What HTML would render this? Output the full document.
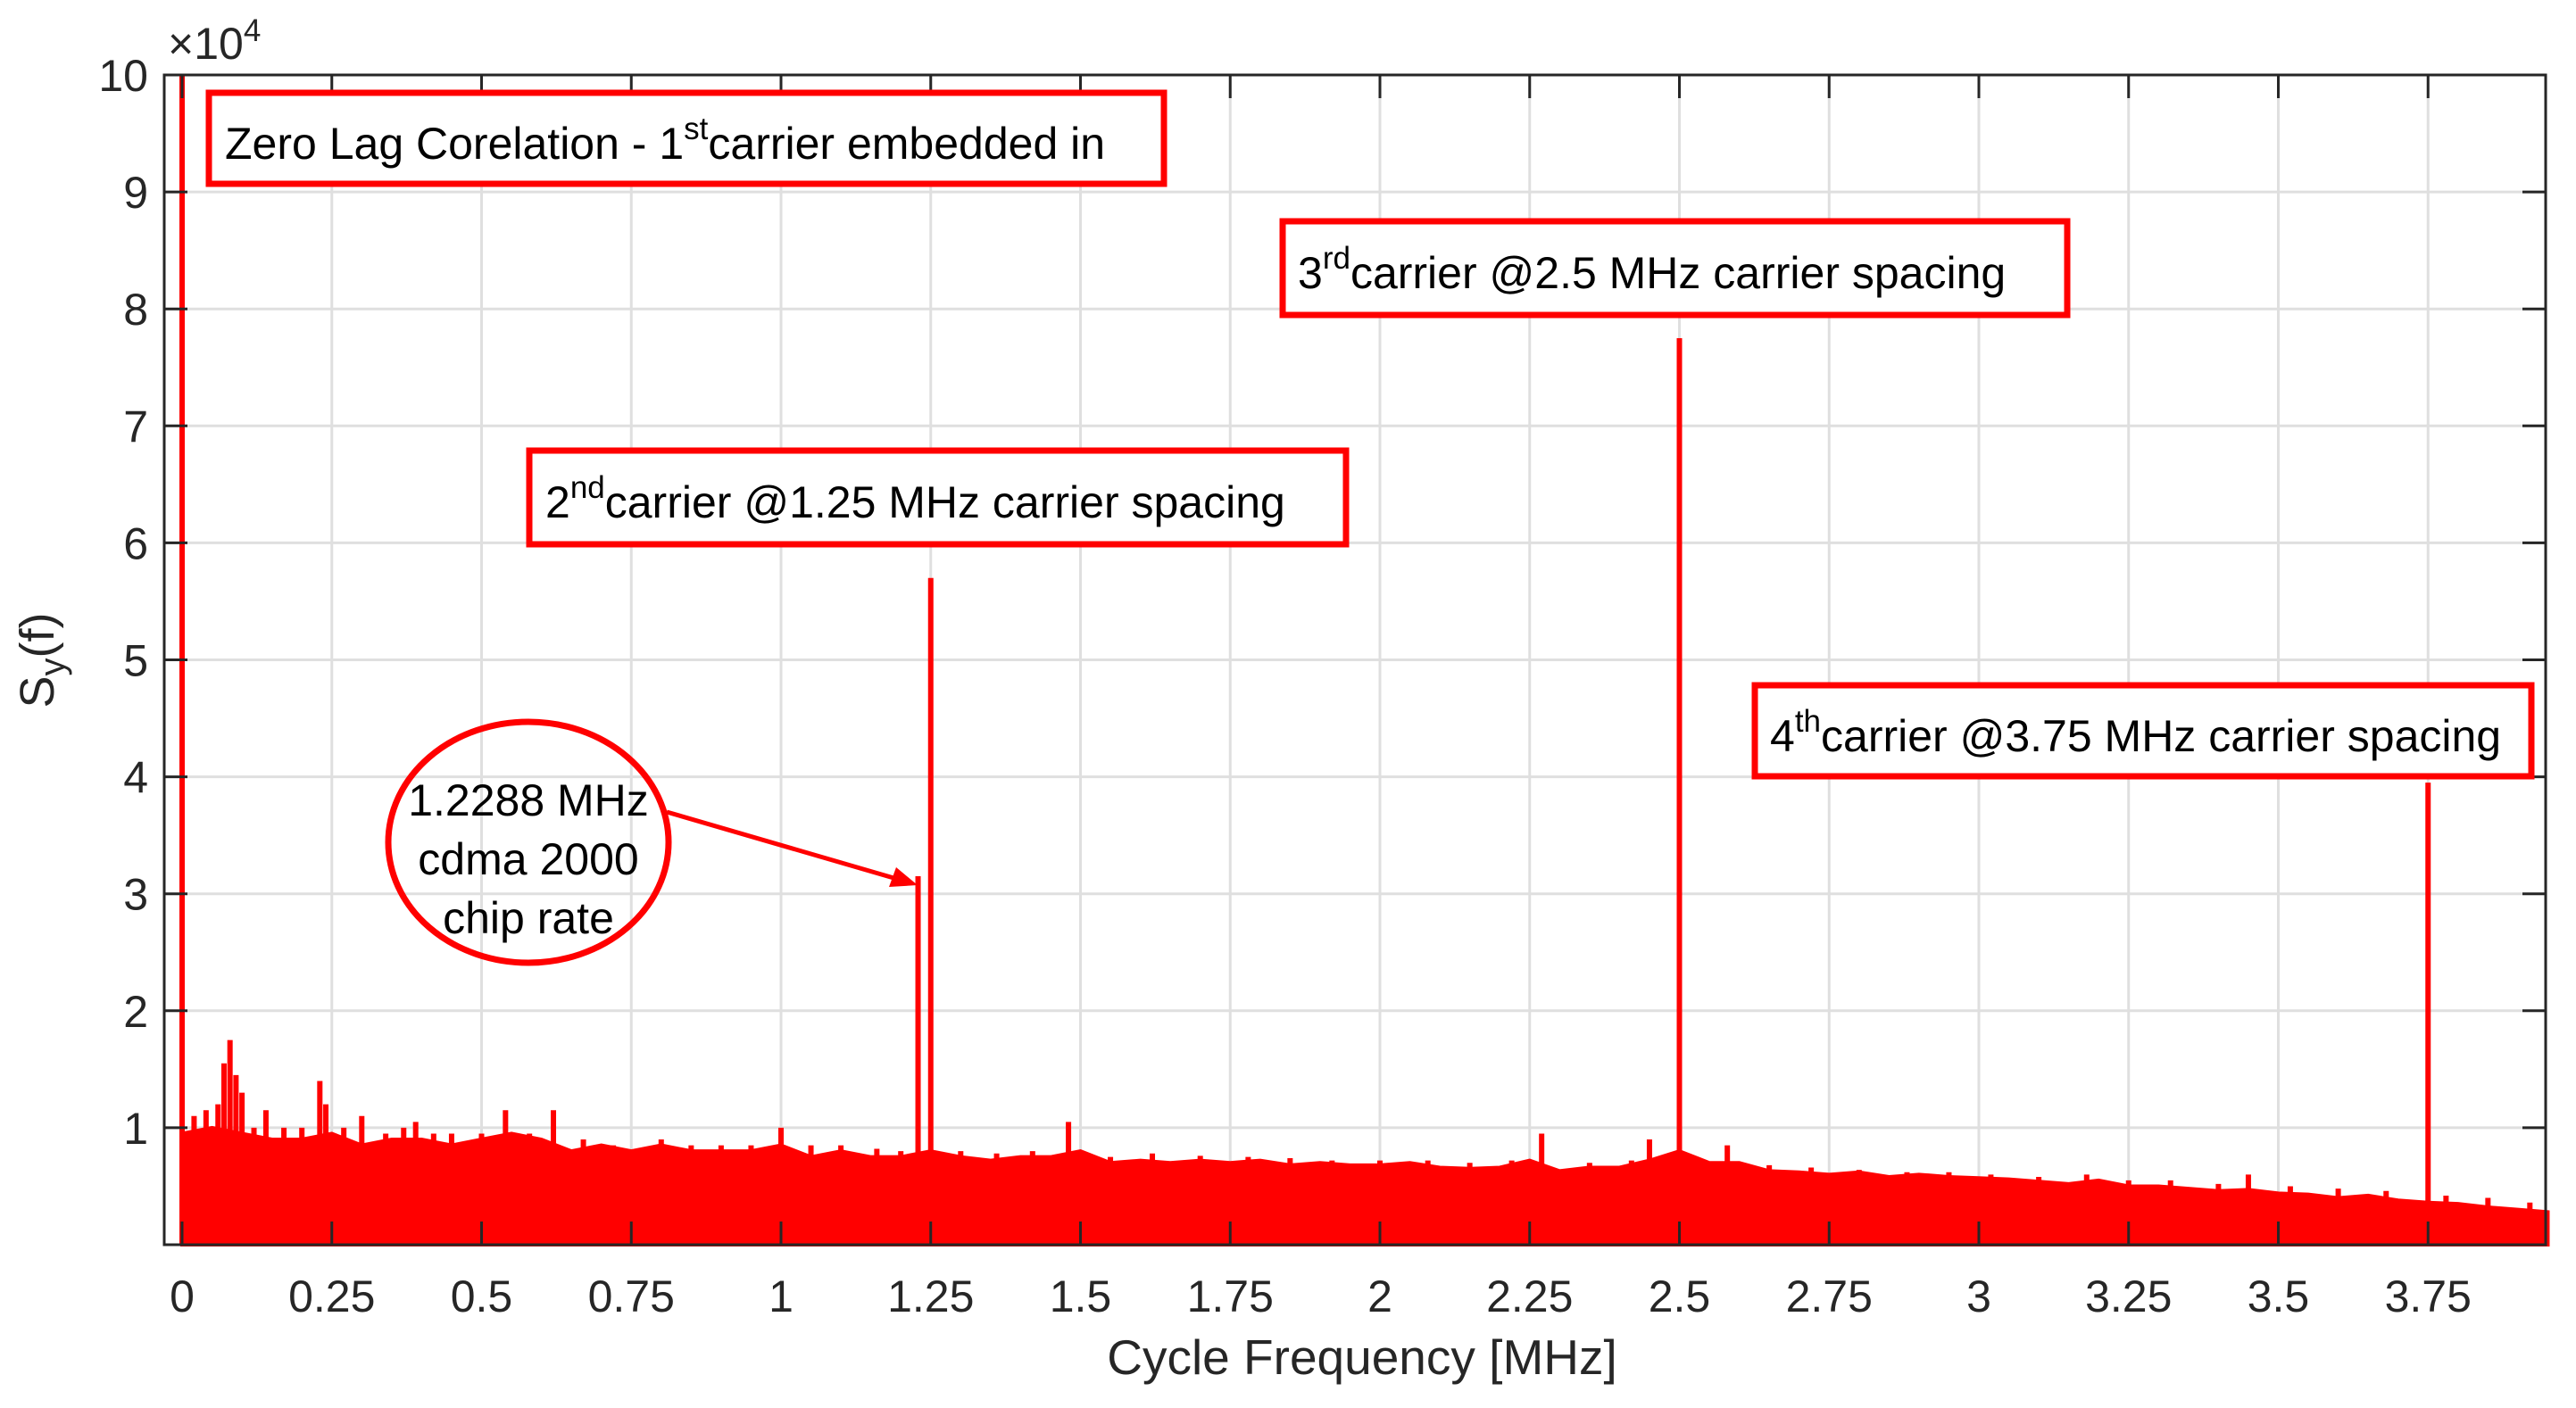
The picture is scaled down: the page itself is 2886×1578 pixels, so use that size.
<!DOCTYPE html>
<html><head><meta charset="utf-8"><style>
html,body{margin:0;padding:0;background:#fff;}
svg{display:block;font-family:"Liberation Sans",Arial,sans-serif;}
</style></head><body>
<svg id="chart" width="2886" height="1578" viewBox="0 0 2886 1578" xmlns="http://www.w3.org/2000/svg">
<rect width="2886" height="1578" fill="#fff"/>
<g id="grid"></g>
<g id="series"></g>
<g id="axes"></g>
<g id="annot">
  <rect x="234" y="104" width="1070" height="102" fill="#fff" stroke="#f00" stroke-width="7"/>
  <text x="252" y="178" font-size="50" fill="#000">Zero Lag Corelation - 1<tspan font-size="35" dy="-22">st</tspan><tspan dy="22">carrier embedded in</tspan></text>
  <rect x="593" y="505" width="915" height="105" fill="#fff" stroke="#f00" stroke-width="7"/>
  <text x="611" y="580" font-size="50" fill="#000">2<tspan font-size="35" dy="-22">nd</tspan><tspan dy="22">carrier @1.25 MHz carrier spacing</tspan></text>
  <rect x="1437" y="248" width="879" height="105" fill="#fff" stroke="#f00" stroke-width="7"/>
  <text x="1454" y="323" font-size="50" fill="#000">3<tspan font-size="35" dy="-22">rd</tspan><tspan dy="22">carrier @2.5 MHz carrier spacing</tspan></text>
  <rect x="1966" y="768" width="870" height="102" fill="#fff" stroke="#f00" stroke-width="7"/>
  <text x="1983" y="842" font-size="50" fill="#000">4<tspan font-size="35" dy="-22">th</tspan><tspan dy="22">carrier @3.75 MHz carrier spacing</tspan></text>
  <ellipse cx="592" cy="944" rx="157" ry="135" fill="none" stroke="#f00" stroke-width="7"/>
  <text x="592" y="914" font-size="50" fill="#000" text-anchor="middle">1.2288 MHz</text>
  <text x="592" y="980" font-size="50" fill="#000" text-anchor="middle">cdma 2000</text>
  <text x="592" y="1046" font-size="50" fill="#000" text-anchor="middle">chip rate</text>
  <line x1="747" y1="910" x2="1015" y2="988" stroke="#f00" stroke-width="5"/>
  <polygon points="1028,992 996,994 1004,972" fill="#f00"/>
</g>
<text x="188" y="66" font-size="50" fill="#262626">×10<tspan font-size="35" dy="-20">4</tspan></text>
<text transform="translate(60,740) rotate(-90)" font-size="54" fill="#262626" text-anchor="middle">S<tspan font-size="40" dy="12">y</tspan><tspan dy="-12">(f)</tspan></text>
<text x="1526" y="1540" font-size="55" fill="#262626" text-anchor="middle">Cycle Frequency [MHz]</text>
</svg>
<script>
const noiseFreqs = [0,0.05,0.1,0.15,0.2,0.25,0.3,0.35,0.4,0.45,0.5,0.55,0.6,0.65,0.7,0.75,0.8,0.85,0.9,0.95,1.0,1.05,1.1,1.15,1.2,1.25,1.3,1.35,1.4,1.45,1.5,1.55,1.6,1.65,1.7,1.75,1.8,1.85,1.9,1.95,2.0,2.05,2.1,2.15,2.2,2.25,2.3,2.35,2.4,2.45,2.5,2.55,2.6,2.65,2.7,2.75,2.8,2.85,2.9,2.95,3.0,3.05,3.1,3.15,3.2,3.25,3.3,3.35,3.4,3.45,3.5,3.55,3.6,3.65,3.7,3.75,3.8,3.85,3.9,3.95];
const noiseLevels = [0.95,1.0,0.95,0.9,0.9,0.95,0.85,0.9,0.9,0.85,0.9,0.95,0.9,0.8,0.85,0.8,0.85,0.8,0.8,0.8,0.85,0.75,0.8,0.75,0.75,0.8,0.75,0.72,0.75,0.75,0.8,0.7,0.72,0.7,0.72,0.7,0.72,0.68,0.7,0.68,0.68,0.7,0.66,0.65,0.66,0.72,0.63,0.66,0.66,0.72,0.8,0.7,0.7,0.63,0.62,0.6,0.62,0.58,0.6,0.58,0.57,0.56,0.54,0.52,0.55,0.5,0.5,0.48,0.46,0.47,0.44,0.43,0.4,0.42,0.38,0.36,0.35,0.32,0.3,0.28];
const spikeFreqs = [0.02,0.04,0.06,0.07,0.08,0.09,0.1,0.12,0.14,0.17,0.2,0.23,0.24,0.27,0.3,0.34,0.37,0.39,0.42,0.45,0.5,0.54,0.58,0.62,0.67,0.72,0.8,0.85,0.9,0.95,1.0,1.05,1.1,1.16,1.2,1.3,1.36,1.42,1.48,1.55,1.62,1.7,1.78,1.85,1.92,2.0,2.08,2.15,2.22,2.27,2.35,2.42,2.45,2.58,2.65,2.72,2.8,2.88,2.95,3.02,3.1,3.18,3.25,3.32,3.4,3.45,3.52,3.6,3.68,3.78,3.85,3.92];
const spikeValues = [1.1,1.15,1.2,1.55,1.75,1.45,1.3,1.0,1.15,1.0,1.0,1.4,1.2,1.0,1.1,0.95,1.0,1.05,0.95,0.95,0.95,1.15,0.95,1.15,0.9,0.85,0.9,0.85,0.85,0.85,1.0,0.85,0.85,0.82,0.8,0.8,0.78,0.8,1.05,0.75,0.78,0.76,0.75,0.74,0.72,0.72,0.72,0.7,0.72,0.95,0.7,0.72,0.9,0.85,0.68,0.66,0.64,0.62,0.62,0.6,0.58,0.6,0.55,0.55,0.52,0.6,0.5,0.48,0.46,0.42,0.4,0.36];
const peakFreqs = [0.0,1.2288,1.25,2.5,3.75];
const peakValues = [10.5,3.15,5.7,7.75,3.95];
const xTicks = [0,0.25,0.5,0.75,1,1.25,1.5,1.75,2,2.25,2.5,2.75,3,3.25,3.5,3.75];
const xTickLabels = ["0","0.25","0.5","0.75","1","1.25","1.5","1.75","2","2.25","2.5","2.75","3","3.25","3.5","3.75"];
const yTicks = [1,2,3,4,5,6,7,8,9,10];
const yTickLabels = ["1","2","3","4","5","6","7","8","9","10"];

const L=184,R=2852,T=84,B=1395;
const X0=204,PX=671;
const xs=v=>X0+v*PX;
const ys=v=>B-(v/10)*(B-T);
const NS="http://www.w3.org/2000/svg";
function mk(tag,attrs,parent){const e=document.createElementNS(NS,tag);for(const k in attrs)e.setAttribute(k,attrs[k]);parent.appendChild(e);return e;}
const grid=document.getElementById('grid'),axes=document.getElementById('axes'),series=document.getElementById('series');

xTicks.forEach((v,i)=>{
  const g=mk('line',{x1:xs(v),x2:xs(v),y1:T,y2:B,stroke:'#dfdfdf','stroke-width':3},grid);
  
  
  const t=mk('line',{x1:xs(v),x2:xs(v),y1:B,y2:B-26,stroke:'#262626','stroke-width':3},axes);
  
  
  const t2=mk('line',{x1:xs(v),x2:xs(v),y1:T,y2:T+26,stroke:'#262626','stroke-width':3},axes);
  
  
  const lb=mk('text',{x:xs(v),y:1470,'font-size':50,fill:'#262626','text-anchor':'middle'},axes);
  lb.textContent=xTickLabels[i];
  
  
});
yTicks.forEach((v,i)=>{
  const g=mk('line',{x1:L,x2:R,y1:ys(v),y2:ys(v),stroke:'#dfdfdf','stroke-width':3},grid);
  
  
  const t=mk('line',{x1:L,x2:L+26,y1:ys(v),y2:ys(v),stroke:'#262626','stroke-width':3},axes);
  
  
  const t2=mk('line',{x1:R,x2:R-26,y1:ys(v),y2:ys(v),stroke:'#262626','stroke-width':3},axes);
  
  
  const lb=mk('text',{x:166,y:ys(v)+18,'font-size':50,fill:'#262626','text-anchor':'end'},axes);
  lb.textContent=yTickLabels[i];
  
  
});
const box=mk('rect',{x:L,y:T,width:R-L,height:B-T,fill:'none',stroke:'#262626','stroke-width':3},axes);



let pts=[[xs(noiseFreqs[0]),B]];
noiseFreqs.forEach((f,i)=>pts.push([xs(f),ys(noiseLevels[i])]));
pts.push([xs(noiseFreqs[noiseFreqs.length-1]),B]);
const band=mk('polygon',{points:pts.map(p=>p.join(',')).join(' '),fill:'#ff0000',stroke:'#ff0000','stroke-width':4},series);


spikeFreqs.forEach((f,i)=>{
  const s=mk('line',{x1:xs(f),x2:xs(f),y1:B,y2:ys(spikeValues[i]),stroke:'#ff0000','stroke-width':6},series);
  
  
});
peakFreqs.forEach((f,i)=>{
  const s=mk('line',{x1:xs(f),x2:xs(f),y1:B,y2:Math.max(T,ys(peakValues[i])),stroke:'#ff0000','stroke-width':6},series);
  
  
});
</script>
</body></html>
